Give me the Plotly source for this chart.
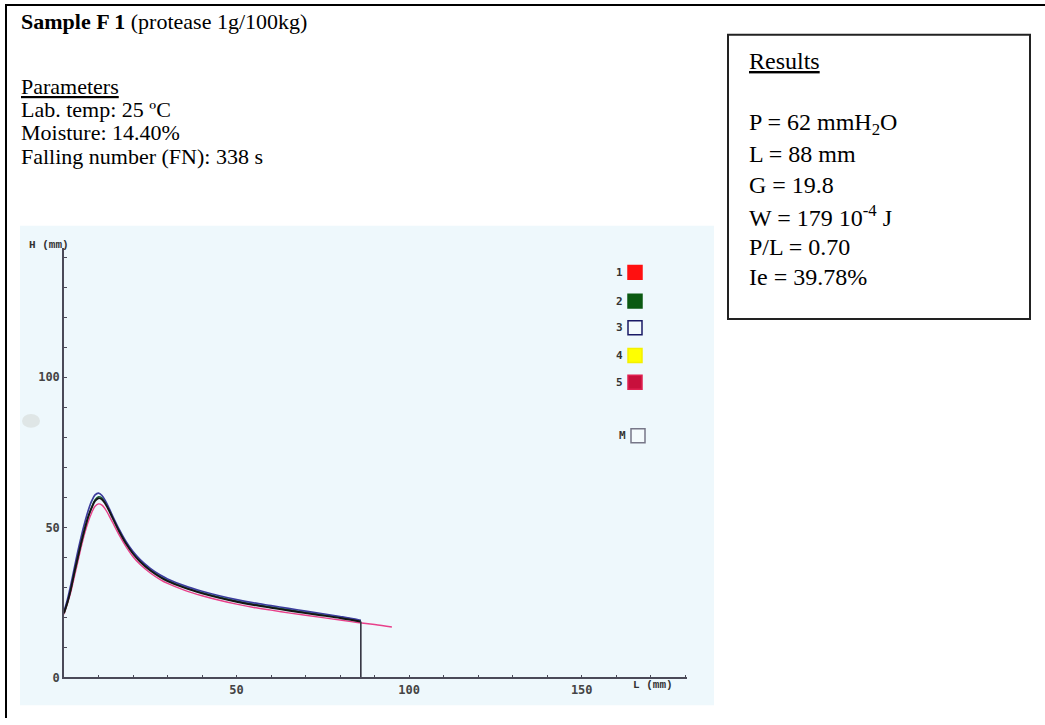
import plotly.graph_objects as go

W, H = 1045, 725

# ---------------- data ----------------
L_main = [0, 1, 2, 3, 4, 5, 6, 7, 8, 9, 10, 11, 12, 13, 14, 16, 18, 20, 22, 25, 28, 30,
          35, 40, 45, 50, 55, 60, 65, 70, 75, 80, 85, 86]
H_black = [21.5, 25, 29.5, 35, 40, 45, 49.5, 53.5, 56.5, 58.8, 59.7, 59.3, 57.8, 55.7, 53.3,
           48.6, 44.5, 41.2, 38.6, 35.6, 33.3, 32.1, 29.8, 28.0, 26.5, 25.2, 24.1, 23.2,
           22.3, 21.4, 20.6, 19.8, 18.8, 18.6]
H_blue = [22, 26, 31, 36.5, 42, 47, 51.5, 55.5, 58.7, 60.8, 61.4, 60.6, 58.8, 56.5, 54,
          49.3, 45.2, 41.9, 39.3, 36.3, 34, 32.8, 30.5, 28.7, 27.2, 25.9, 24.8, 23.9, 23,
          22.1, 21.2, 20.3, 19.3, 19.0]
H_green = [21.3, 24.8, 29.3, 34.6, 39.6, 44.6, 49.2, 53.3, 56.6, 59.2, 60.2, 59.8, 58.2, 56.0,
           53.6, 48.9, 44.8, 41.5, 38.9, 35.9, 33.6, 32.4, 30.1, 28.3, 26.8, 25.5, 24.4,
           23.5, 22.6, 21.7, 20.9, 20.1, 19.1, 18.9]
L_pink = [0, 1, 2, 3, 4, 5, 6, 7, 8, 9, 10, 11, 12, 13, 14, 16, 18, 20, 22, 25, 28, 30,
          35, 40, 45, 50, 55, 60, 65, 70, 75, 80, 85, 90, 95]
H_pink = [21, 24.5, 28.5, 33.5, 38.5, 43.5, 48, 51.8, 54.8, 57, 57.8, 57.4, 56, 54, 51.8,
          47.4, 43.5, 40.2, 37.7, 34.8, 32.5, 31.3, 29, 27.2, 25.7, 24.4, 23.3, 22.4, 21.5,
          20.7, 19.9, 19.1, 18.3, 17.6, 16.8]

x_tickvals = [50, 100, 150]
x_ticktext = ["50", "100", "150"]
y_tickvals = [0, 50, 100]
y_ticktext = ["0", "50", "100"]

legend_labels = ["1", "2", "3", "4", "5", "M"]
legend_fill = ["#ff1010", "#0b5a12", "#f4fbfd", "#ffff00", "#c8103c", "#f4fbfd"]
legend_line = ["#ff1010", "#0b5a12", "#1a1a66", "#f4f000", "#e02050", "#777788"]

title_text = "<b>Sample F 1</b> (protease 1g/100kg)"
param_lines = ["<u>Parameters</u>", "Lab. temp: 25 ºC", "Moisture: 14.40%",
               "Falling number (FN): 338 s"]
result_lines = ["<u>Results</u>", "P = 62 mmH<sub>2</sub>O", "L = 88 mm", "G = 19.8",
                "W = 179 10<sup>-4</sup> J", "P/L = 0.70", "Ie = 39.78%"]


def px(x):
    return x / W


def py(y):
    return 1 - y / H


fig = go.Figure()

fig.add_trace(go.Scatter(x=L_pink, y=H_pink, mode="lines", line=dict(color="#e8408a", width=1.4),
                         line_shape="spline", hoverinfo="skip"))
fig.add_trace(go.Scatter(x=L_main, y=H_green, mode="lines", line=dict(color="#1d6a3a", width=1.4),
                         line_shape="spline", hoverinfo="skip"))
fig.add_trace(go.Scatter(x=L_main, y=H_blue, mode="lines", line=dict(color="#3c3c9c", width=1.7),
                         line_shape="spline", hoverinfo="skip"))
fig.add_trace(go.Scatter(x=L_main, y=H_black, mode="lines", line=dict(color="#151515", width=1.9),
                         line_shape="spline", hoverinfo="skip"))
# vertical drop at the end of the test
fig.add_trace(go.Scatter(x=[L_main[-1], L_main[-1]], y=[H_black[-1], 0], mode="lines",
                         line=dict(color="#333340", width=1.6), hoverinfo="skip"))

tick_font = dict(family="DejaVu Sans Mono", size=12, color="#444444", weight="bold")
minor = dict(ticks="inside", dtick=10, ticklen=3, tickcolor="#4a4a58", tickwidth=1)

fig.update_layout(
    width=W, height=H,
    margin=dict(l=0, r=0, t=0, b=0),
    paper_bgcolor="white",
    plot_bgcolor="rgba(0,0,0,0)",
    showlegend=False,
    xaxis=dict(domain=[px(64), px(687)], range=[0, 180.5], showgrid=False, zeroline=False,
               showline=True, linecolor="#4a4a58", linewidth=1.5,
               tickmode="array", tickvals=x_tickvals, ticktext=x_ticktext,
               ticks="inside", ticklen=3, tickcolor="#4a4a58", tickwidth=1,
               minor=minor, tickfont=tick_font, fixedrange=True),
    yaxis=dict(domain=[py(684), py(250)], range=[0, 143.2], showgrid=False, zeroline=False,
               showline=True, linecolor="#4a4a58", linewidth=1.5,
               tickmode="array", tickvals=y_tickvals, ticktext=y_ticktext,
               ticks="inside", ticklen=3, tickcolor="#4a4a58", tickwidth=1,
               minor=minor, tickfont=tick_font, fixedrange=True),
)

shapes = []
# scanned chart background
shapes.append(dict(type="rect", xref="paper", yref="paper", x0=px(20), x1=px(714),
                   y0=py(712), y1=py(228), fillcolor="#eef8fc", line=dict(width=0), layer="below"))
# faint scan artefact
shapes.append(dict(type="circle", xref="paper", yref="paper", x0=px(22), x1=px(40),
                   y0=py(432), y1=py(418), fillcolor="#dfe6e6", line=dict(width=0), layer="below"))
# page borders
shapes.append(dict(type="line", xref="paper", yref="paper", x0=px(5), x1=px(1045),
                   y0=py(5), y1=py(5), line=dict(color="black", width=2)))
shapes.append(dict(type="line", xref="paper", yref="paper", x0=px(6), x1=px(6),
                   y0=py(5), y1=py(725), line=dict(color="black", width=2)))
# results box
shapes.append(dict(type="rect", xref="paper", yref="paper", x0=px(728), x1=px(1030),
                   y0=py(322), y1=py(35), line=dict(color="#222222", width=2)))

ann = []
leg_font = dict(family="DejaVu Sans Mono", size=11, color="#333333", weight="bold")
leg_y = [275, 304, 331, 359, 386, 440]
for lab, fc, lc, yy in zip(legend_labels, legend_fill, legend_line, leg_y):
    x0 = 628 if lab != "M" else 631
    shapes.append(dict(type="rect", xref="paper", yref="paper", x0=px(x0), x1=px(x0 + 14),
                       y0=py(yy + 7), y1=py(yy - 7), fillcolor=fc, line=dict(color=lc, width=1.5)))
    ann.append(dict(x=px(x0 - 3), y=py(yy), xref="paper", yref="paper", text=lab,
                    showarrow=False, xanchor="right", yanchor="middle", font=leg_font))

lab_font = dict(family="Liberation Mono", size=11, color="#333333", weight="bold")
ann.append(dict(x=px(27), y=py(247), xref="paper", yref="paper", text="H (mm)", showarrow=False,
                xanchor="left", yanchor="middle", font=lab_font))
ann.append(dict(x=px(631), y=py(692), xref="paper", yref="paper", text="L (mm)", showarrow=False,
                xanchor="left", yanchor="middle", font=lab_font))

serif = "Liberation Serif"
ann.append(dict(x=px(19), y=py(22), xref="paper", yref="paper", text=title_text,
                showarrow=False, xanchor="left", yanchor="middle",
                font=dict(family=serif, size=22, color="black")))
for txt, yy in zip(param_lines, [87, 111, 134, 158]):
    ann.append(dict(x=px(19), y=py(yy), xref="paper", yref="paper", text=txt, showarrow=False,
                    xanchor="left", yanchor="middle", font=dict(family=serif, size=22, color="black")))
for txt, yy in zip(result_lines, [62, 125, 156, 187, 218, 249, 280]):
    ann.append(dict(x=px(747), y=py(yy), xref="paper", yref="paper", text=txt, showarrow=False,
                    xanchor="left", yanchor="middle", font=dict(family=serif, size=24, color="black")))

fig.update_layout(shapes=shapes, annotations=ann)

fig.write_html("out.html", config={"displayModeBar": False},
               post_script="document.body.style.margin='0px';")
